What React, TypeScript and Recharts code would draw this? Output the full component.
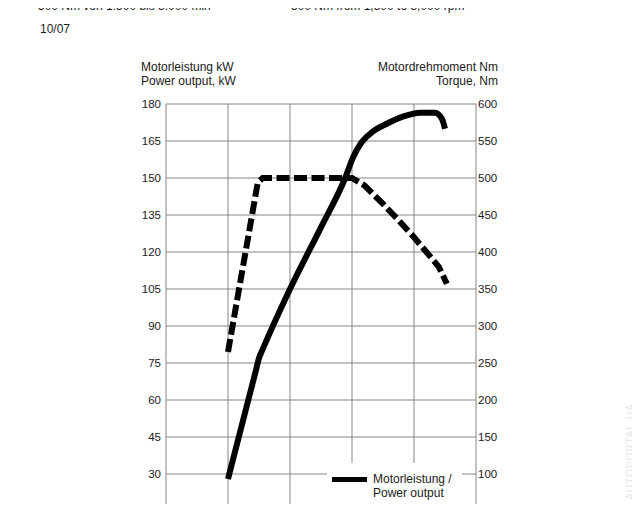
import { LineChart, Line, XAxis, YAxis, CartesianGrid, Legend } from 'recharts'

const rpmTicks = [0, 1000, 2000, 3000, 4000, 5000]
const kwTicks = [0, 15, 30, 45, 60, 75, 90, 105, 120, 135, 150, 165, 180]
const nmTicks = [0, 50, 100, 150, 200, 250, 300, 350, 400, 450, 500, 550, 600]

// Motorleistung (kW) over engine speed
const powerRpm = [1000, 1450, 1500, 1550, 2000, 2500, 2890, 3020, 3155, 3345, 3560, 3830, 4100, 4340, 4450, 4500]
const powerKw = [28, 72, 77, 80, 105, 130, 150, 158.5, 164.5, 169, 172, 175, 176.5, 176.5, 174, 170]

// Drehmoment (Nm) over engine speed
const torqueRpm = [1000, 1480, 1560, 2000, 2500, 3000, 3200, 3500, 3750, 4000, 4200, 4400, 4530]
const torqueNm = [265, 494, 500, 500, 500, 500, 490, 465, 443, 420, 400, 380, 357]

const legendItems = [
  { key: 'power', lines: ['Motorleistung /', 'Power output'], dashed: false },
  { key: 'torque', lines: ['Drehmoment /', 'Torque'], dashed: true },
]

const powerData = powerRpm.map((rpm, i) => ({ rpm, kw: powerKw[i] }))
const torqueData = torqueRpm.map((rpm, i) => ({ rpm, nm: torqueNm[i] }))

const font = '"Liberation Sans", Arial, Helvetica, sans-serif'
const ink = '#1a1a1a'
const tick = { fill: ink, fontSize: 11.5 }

function Sample({ dashed }: { dashed: boolean }) {
  if (!dashed) return <div style={{ width: 35, height: 5, background: '#000', marginTop: 4.5 }} />
  return (
    <div style={{ display: 'flex', gap: 4, marginTop: 4.5 }}>
      <div style={{ width: 15.5, height: 5, background: '#000' }} />
      <div style={{ width: 15.5, height: 5, background: '#000' }} />
    </div>
  )
}

function LegendBox() {
  return (
    <div style={{ background: '#fff', padding: '9px 0 0 5px', height: 70, boxSizing: 'border-box' }}>
      {legendItems.map(item => (
        <div key={item.key} style={{ display: 'flex', marginBottom: 3 }}>
          <div style={{ width: 41, flex: 'none' }}><Sample dashed={item.dashed} /></div>
          <div style={{ fontSize: 12, lineHeight: '14px', color: ink }}>
            {item.lines.map(l => <div key={l}>{l}</div>)}
          </div>
        </div>
      ))}
    </div>
  )
}

const topText = { position: 'absolute' as const, top: 1.3, fontSize: 12, lineHeight: '11px', whiteSpace: 'nowrap' as const, zIndex: 2 }

export default function App() {
  return (
    <div style={{ position: 'relative', margin: -8, width: 640, height: 512, overflow: 'hidden', background: '#fff', fontFamily: font, color: ink }}>
      <div style={{ ...topText, left: 38 }}>
        500 Nm von 1.500 bis 3.000 min
        <span style={{ fontSize: 7, position: 'relative', top: -5, marginLeft: 1 }}>-1</span>
      </div>
      <div style={{ ...topText, left: 291 }}>
        500 Nm from 1,500 to 3,000 rpm
      </div>
      <div style={{ position: 'absolute', left: 40, top: 22, fontSize: 12, lineHeight: '14px' }}>10/07</div>

      <div style={{ position: 'absolute', left: 141, top: 60, fontSize: 12, lineHeight: '14px' }}>
        <div>Motorleistung kW</div>
        <div>Power output, kW</div>
      </div>
      <div style={{ position: 'absolute', right: 142, top: 60, fontSize: 12, lineHeight: '14px', textAlign: 'right' }}>
        <div>Motordrehmoment Nm</div>
        <div>Torque, Nm</div>
      </div>

      <div style={{ position: 'absolute', left: 0, top: 0 }}>
        <LineChart width={640} height={590} margin={{ top: 104, right: 0, left: 0, bottom: 12 }}>
          <CartesianGrid stroke="#858585" strokeWidth={1} yAxisId="kw" />
          <XAxis type="number" dataKey="rpm" domain={[0, 5000]} ticks={rpmTicks} height={30}
            tick={tick} axisLine={false} tickLine={false} />
          <YAxis yAxisId="kw" orientation="left" domain={[0, 180]} ticks={kwTicks} width={166}
            tick={tick} axisLine={false} tickLine={false} tickSize={0} tickMargin={5} />
          <YAxis yAxisId="nm" orientation="right" domain={[0, 600]} ticks={nmTicks} width={164}
            tick={{ ...tick, textAnchor: 'start' }} axisLine={false} tickLine={false} tickSize={0} tickMargin={2} />
          <Line yAxisId="kw" data={powerData} dataKey="kw" type="monotone" stroke="#000" strokeWidth={6}
            dot={false} isAnimationActive={false} name="Motorleistung / Power output" />
          <Line yAxisId="nm" data={torqueData} dataKey="nm" type="linear" stroke="#000" strokeWidth={6}
            strokeDasharray="13 4.5" dot={false} isAnimationActive={false} name="Drehmoment / Torque" />
          <Legend layout="vertical" align="center" verticalAlign="middle" content={<LegendBox />}
            wrapperStyle={{ left: 327, top: 463, width: 135 }} />
        </LineChart>
      </div>

      <div style={{ position: 'absolute', left: 580, top: 446, width: 100, fontSize: 10, letterSpacing: 1, color: '#e6e6e6', textAlign: 'center', transform: 'rotate(-90deg)' }}>
        AUTOPORTAL.UA
      </div>
    </div>
  )
}
